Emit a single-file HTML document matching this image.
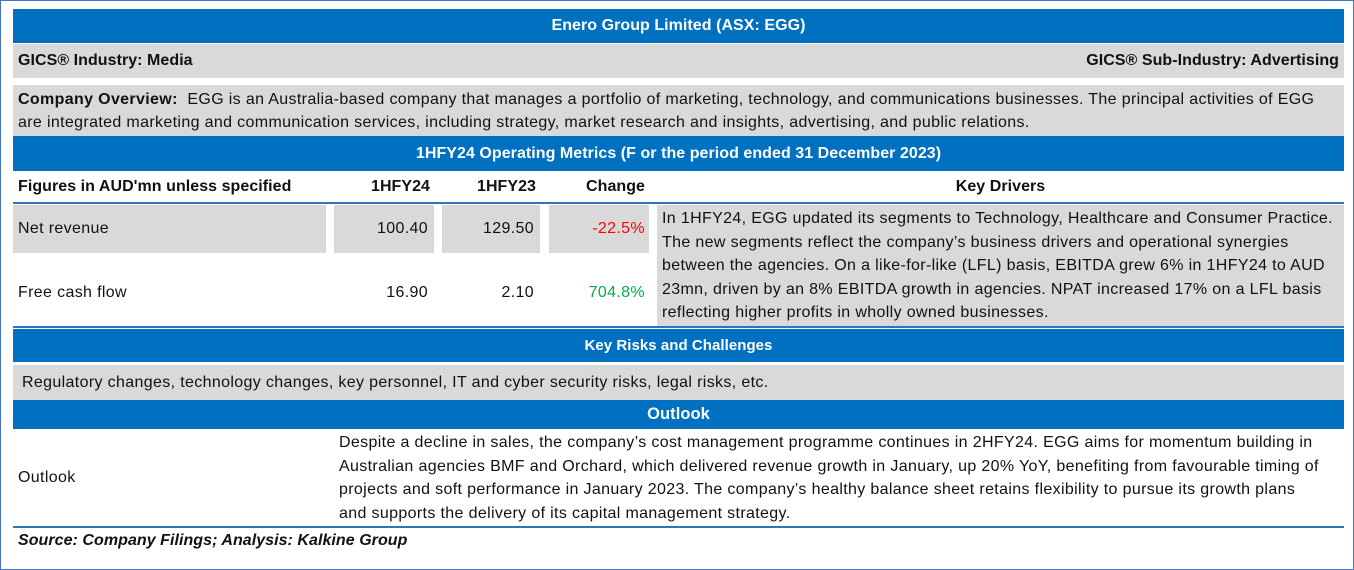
<!DOCTYPE html>
<html><head><meta charset="utf-8"><style>
*{margin:0;padding:0;box-sizing:border-box}
body{width:1354px;height:570px;background:#fff;position:relative;overflow:hidden;font-family:"Liberation Sans",Arial,sans-serif;color:#111;font-size:16px;letter-spacing:0.35px}
.a{position:absolute;white-space:nowrap}
.blue{background:#0070c0;color:#fff;font-weight:bold;text-align:center;letter-spacing:0.05px}
.gray{background:#d9d9d9}
.b{font-weight:bold;letter-spacing:0.05px}
.r{text-align:right}
.line{position:absolute;left:13px;width:1331px;height:2px;background:#2e75b6}
</style></head><body>
<div class="a" style="left:0;top:0;width:1354px;height:570px;border:1px solid #4472c4"></div>
<div class="a blue" style="left:13px;top:9px;width:1331px;height:34px;line-height:34px">Enero Group Limited (ASX: EGG)</div>
<div class="a gray b" style="left:13px;top:44px;width:1331px;height:34px;line-height:34px;padding:0 5px">GICS® Industry: Media<span style="position:absolute;right:5px">GICS® Sub-Industry: Advertising</span></div>
<div class="a gray" style="left:13px;top:85px;width:1331px;height:51px;padding:3px 5px;line-height:23px"><b>Company Overview:</b>&nbsp; EGG is an Australia-based company that manages a portfolio of marketing, technology, and communications businesses. The principal activities of EGG<br>are integrated marketing and communication services, including strategy, market research and insights, advertising, and public relations.</div>
<div class="a blue" style="left:13px;top:136px;width:1331px;height:35px;line-height:35px">1HFY24 Operating Metrics (F or the period ended 31 December 2023)</div>
<div class="a b" style="left:18px;top:171px;line-height:31px">Figures in AUD'mn unless specified</div>
<div class="a b r" style="left:334px;top:171px;width:96px;line-height:31px">1HFY24</div>
<div class="a b r" style="left:442px;top:171px;width:94px;line-height:31px">1HFY23</div>
<div class="a b r" style="left:549px;top:171px;width:96px;line-height:31px">Change</div>
<div class="a b" style="left:657px;top:171px;width:687px;line-height:31px;text-align:center">Key Drivers</div>
<div class="line" style="top:202px"></div>
<div class="a gray" style="left:13px;top:205px;width:313px;height:48px;line-height:48px;padding-left:5px">Net revenue</div>
<div class="a gray r" style="left:334px;top:205px;width:100px;height:48px;line-height:48px;padding-right:6px">100.40</div>
<div class="a gray r" style="left:442px;top:205px;width:98px;height:48px;line-height:48px;padding-right:6px">129.50</div>
<div class="a gray r" style="left:549px;top:205px;width:100px;height:48px;line-height:48px;padding-right:4px;color:#ff0000">-22.5%</div>
<div class="a" style="left:18px;top:255px;line-height:76px">Free cash flow</div>
<div class="a r" style="left:334px;top:255px;width:94px;line-height:76px">16.90</div>
<div class="a r" style="left:442px;top:255px;width:92px;line-height:76px">2.10</div>
<div class="a r" style="left:549px;top:255px;width:96px;line-height:76px;color:#00b050">704.8%</div>
<div class="a gray" style="left:657px;top:205px;width:687px;height:121px;padding:2px 5px;line-height:23.5px">In 1HFY24, EGG updated its segments to Technology, Healthcare and Consumer Practice.<br>The new segments reflect the company’s business drivers and operational synergies<br>between the agencies. On a like-for-like (LFL) basis, EBITDA grew 6% in 1HFY24 to AUD<br>23mn, driven by an 8% EBITDA growth in agencies. NPAT increased 17% on a LFL basis<br>reflecting higher profits in wholly owned businesses.</div>
<div class="line" style="top:326px"></div>
<div class="a blue" style="left:13px;top:329px;width:1331px;height:33px;line-height:33px;font-size:15px">Key Risks and Challenges</div>
<div class="a gray" style="left:13px;top:365px;width:1331px;height:35px;line-height:35px;padding-left:9px">Regulatory changes, technology changes, key personnel, IT and cyber security risks, legal risks, etc.</div>
<div class="a blue" style="left:13px;top:400px;width:1331px;height:29px;line-height:29px;font-size:16.5px">Outlook</div>
<div class="a" style="left:18px;top:429px;line-height:97px">Outlook</div>
<div class="a" style="left:339px;top:431px;width:1000px;line-height:23.5px">Despite a decline in sales, the company’s cost management programme continues in 2HFY24. EGG aims for momentum building in<br>Australian agencies BMF and Orchard, which delivered revenue growth in January, up 20% YoY, benefiting from favourable timing of<br>projects and soft performance in January 2023. The company’s healthy balance sheet retains flexibility to pursue its growth plans<br>and supports the delivery of its capital management strategy.</div>
<div class="line" style="top:526px"></div>
<div class="a b" style="left:18px;top:530px;line-height:22px;font-style:italic">Source: Company Filings; Analysis: Kalkine Group</div>
</body></html>
